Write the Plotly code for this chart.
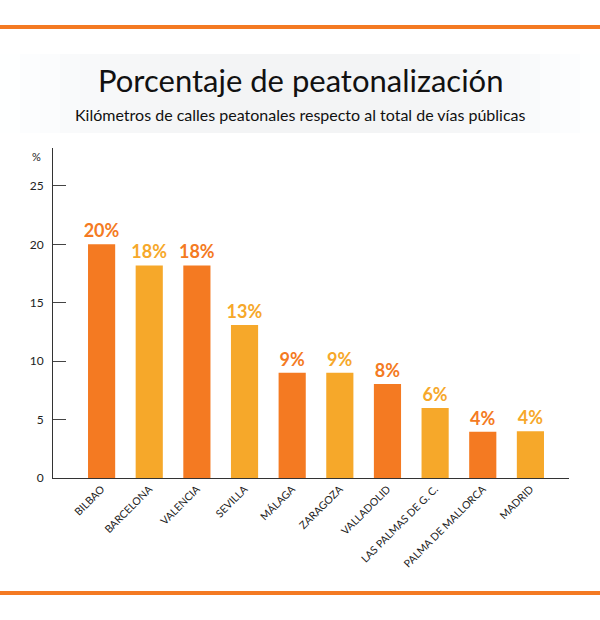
import plotly.graph_objects as go

cities = ["BILBAO", "BARCELONA", "VALENCIA", "SEVILLA", "MÁLAGA", "ZARAGOZA",
          "VALLADOLID", "LAS PALMAS DE G. C.", "PALMA DE MALLORCA", "MADRID"]
values = [20.0, 18.2, 18.2, 13.1, 9.0, 9.0, 8.05, 6.0, 3.95, 4.0]
y_ticks = [0, 5, 10, 15, 20, 25]

ORANGE = "#F47A22"
YELLOW = "#F6A82A"
colors = [ORANGE if i % 2 == 0 else YELLOW for i in range(len(cities))]

W, H = 600, 620
fig = go.Figure()
fig.add_trace(go.Bar(
    x=list(range(len(cities))), y=values, marker=dict(color=colors, line=dict(width=0)),
    texttemplate="%{y:.0f}%", textposition="outside", constraintext="none",
    textfont=dict(family="Lato", size=18, color=colors, weight="bold"),
    cliponaxis=False, width=0.57,
))

shapes = []
# gradient band behind title
n = 30
for i in range(n):
    t = (i + 0.5) / n
    d = abs(t - 0.5) * 2  # 0 center, 1 edges
    g = int(round(243 + (255 - 243) * d ** 2.5))
    shapes.append(dict(type="rect", xref="paper", yref="paper",
                       x0=-53 / 516 + i * (600 / n) / 516, x1=-53 / 516 + (i + 1) * (600 / n) / 516 + 0.002,
                       y0=(620 - 142 - 133) / 330, y1=(620 - 142 - 54) / 330,
                       fillcolor=f"rgb({g},{g+1},{g+2})", line=dict(width=0), layer="below"))
# orange rules
for yc in (27, 593):
    shapes.append(dict(type="rect", xref="paper", yref="paper",
                       x0=-53 / 516, x1=(600 - 53) / 516,
                       y0=(478 - yc - 2) / 330, y1=(478 - yc + 2) / 330,
                       fillcolor=ORANGE, line=dict(width=0)))

fig.update_layout(
    width=W, height=H, margin=dict(l=53, r=31, t=148, b=142),
    paper_bgcolor="white", plot_bgcolor="white", showlegend=False,
    font=dict(family="Lato", color="#222"),
    shapes=shapes,
    xaxis=dict(range=[-1.02, 9.81], tickmode="array", tickvals=list(range(len(cities))),
               ticktext=cities, tickangle=-45, tickfont=dict(size=10.5, color="#222"),
               showline=True, linecolor="#333", linewidth=1, showgrid=False, zeroline=False,
               ticks=""),
    yaxis=dict(range=[0, 28.25], tickvals=y_ticks, ticks="inside", ticklen=13,
               tickcolor="#444", tickwidth=1, showline=True, linecolor="#333", linewidth=1,
               showgrid=False, zeroline=False, tickfont=dict(size=12, color="#222"),
               ticklabelstandoff=6),
    annotations=[
        dict(text="Porcentaje de peatonalización", xref="paper", yref="paper",
             x=(300 - 53) / 516, y=(478 - 80) / 330, showarrow=False,
             font=dict(family="Lato", size=31, color="#111"), xanchor="center", yanchor="middle"),
        dict(text="Kilómetros de calles peatonales respecto al total de vías públicas",
             xref="paper", yref="paper", x=(300 - 53) / 516, y=(478 - 114) / 330,
             showarrow=False, font=dict(family="Lato", size=16, color="#111"),
             xanchor="center", yanchor="middle"),
        dict(text="%", xref="paper", yref="paper", x=(36 - 53) / 516, y=(478 - 156) / 330,
             showarrow=False, font=dict(family="Lato", size=11, color="#222"),
             xanchor="center", yanchor="middle"),
    ],
)
fig.write_html("out.html")
